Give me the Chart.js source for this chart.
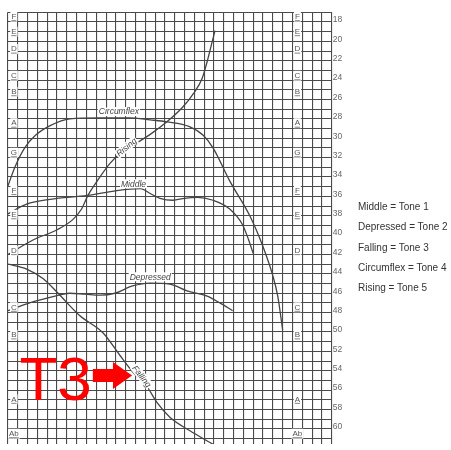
<!DOCTYPE html>
<html lang="en">
<head>
<meta charset="UTF-8">
<title>Tone contours</title>
<style>
  html, body { margin: 0; padding: 0; background: #fff; }
  #wrap { position: relative; width: 451px; height: 450px; }
  #legend {
    position: absolute; left: 358px; top: 197px;
    font-family: "Liberation Sans Narrow", "Liberation Sans", Arial, sans-serif;
    font-size: 10px; color: #333; line-height: 20.3px; white-space: nowrap;
  }
</style>
</head>
<body>
<div id="wrap">
  <canvas id="toneChart" width="451" height="450"></canvas>
  <div id="legend"></div>
</div>
<script src="https://cdn.jsdelivr.net/npm/chart.js"></script>
<script>
// pitch curves: x = grid column, y = pitch step (18 at top, 60 near bottom)
const circumflexX = [0, 0.7, 1.7, 2.8, 4.3, 6.3, 9.4, 12.4, 14.5, 16.2, 18.5, 19.9, 20.9, 22.6, 24.7, 26, 27, 27.5, 28];
const circumflexY = [34.9, 33, 31, 29.7, 28.7, 28, 27.9, 27.9, 28.1, 28.3, 28.8, 29.7, 31, 34.4, 38.1, 41.2, 44.2, 46.3, 49.8];

const risingX = [0, 2.55, 5, 6.6, 7.5, 8.15, 9.1, 10.4, 11.4, 12.95, 14.5, 16.2, 17.8, 18.9, 19.8, 20.3, 20.8, 21.1];
const risingY = [42, 40.5, 39.45, 38.4, 37.3, 35.9, 34.4, 32.6, 31.6, 30.6, 29.6, 28.3, 26.8, 25.4, 23.8, 22.1, 20.1, 18.9];

const middleX = [0, 1.9, 4.3, 8.1, 11.1, 13.5, 14.5, 15.5, 16.8, 18, 19.3, 20.9, 22.6, 23.9, 24.5, 25];
const middleY = [37.8, 36.8, 36.3, 35.9, 35.4, 35.2, 35.7, 36.2, 36.4, 36.2, 36.1, 36.4, 37.3, 38.9, 40.4, 41.9];

const depressedX = [0, 2.2, 4.8, 6.3, 7.85, 9.4, 10.9, 12.7, 14.5, 16.5, 18.25, 20.3, 21.6, 22.9];
const depressedY = [47.8, 47, 46.3, 46, 46.1, 46.2, 46, 45.25, 44.95, 45.05, 45.75, 46.3, 47, 47.8];

const fallingX = [0, 1.9, 3.6, 5.1, 7.3, 9.7, 11.4, 12.7, 14.2, 15.2, 16.5, 18.55, 20.4, 21.1];
const fallingY = [43, 43.5, 44.5, 46, 48.3, 50.1, 52.4, 54.1, 55.7, 57.3, 58.8, 60.2, 61.3, 61.7];

// note letters down both sides of the grid
const noteNames = ['F', 'E', 'D', 'C', 'B', 'A', 'G', 'F', 'E', 'D', 'C', 'B', 'A', 'Ab'];
const notePitch = [17.45, 19, 20.8, 23.55, 25.2, 28.45, 31.5, 35.4, 37.9, 41.6, 47.45, 50.3, 56.95, 60.5];

// legend
const toneNames = ['Middle', 'Depressed', 'Falling', 'Circumflex', 'Rising'];
const toneNumbers = [1, 2, 3, 4, 5];

const gridColumns = Array.from({ length: 34 }, (_, i) => i);
const gridRows = Array.from({ length: 45 }, (_, i) => 17 + i);

document.getElementById('legend').innerHTML = toneNames
  .map((n, i) => n + ' = Tone ' + toneNumbers[i]).join('<br>');

function toPoints(xs, ys) {
  return xs.map((x, i) => ({ x: x, y: ys[i] }));
}

function curve(label, xs, ys) {
  return {
    label: label,
    data: toPoints(xs, ys),
    borderColor: '#444',
    borderWidth: 1.3,
    pointRadius: 0,
    cubicInterpolationMode: 'monotone',
    fill: false
  };
}

// labels written along the curves, in chart units
const curveTags = [
  { text: 'Circumflex', x: 11.3, y: 27.3, angle: 0 },
  { text: 'Middle', x: 12.8, y: 34.75, angle: 0 },
  { text: 'Depressed', x: 14.5, y: 44.35, angle: 0 },
  { text: 'Rising', x: 12.1, y: 30.95, angle: -40 },
  { text: 'Falling', x: 13.6, y: 54.6, angle: 52 }
];

const annotations = {
  id: 'annotations',
  afterDatasetsDraw(chart) {
    const ctx = chart.ctx;
    const xs = chart.scales.x;
    const ys = chart.scales.y;
    ctx.save();

    // curve names
    ctx.font = 'italic 8.5px "Liberation Sans", Arial, sans-serif';
    ctx.textAlign = 'center';
    ctx.textBaseline = 'middle';
    curveTags.forEach(t => {
      const px = xs.getPixelForValue(t.x);
      const py = ys.getPixelForValue(t.y);
      const w = ctx.measureText(t.text).width;
      ctx.save();
      ctx.translate(px, py);
      ctx.rotate(t.angle * Math.PI / 180);
      ctx.fillStyle = '#fff';
      ctx.fillRect(-w / 2 - 1, -5, w + 2, 9);
      ctx.fillStyle = '#444';
      ctx.fillText(t.text, 0, 0);
      ctx.restore();
    });

    // note letters, left and right
    ctx.font = '8px "Liberation Sans", Arial, sans-serif';
    [0.6, 29.5].forEach(col => {
      const px = xs.getPixelForValue(col);
      noteNames.forEach((n, i) => {
        const py = ys.getPixelForValue(notePitch[i]);
        const w = ctx.measureText(n).width;
        ctx.fillStyle = '#fff';
        ctx.fillRect(px - w / 2 - 1, py - 5, w + 2, 10);
        ctx.fillStyle = '#555';
        ctx.fillText(n, px, py);
        ctx.strokeStyle = '#666';
        ctx.lineWidth = 0.8;
        ctx.beginPath();
        ctx.moveTo(px - w / 2, py + 4);
        ctx.lineTo(px + w / 2, py + 4);
        ctx.stroke();
      });
    });

    // T3 marker with arrow
    ctx.fillStyle = '#ff0000';
    ctx.font = '62px "Liberation Sans", Arial, sans-serif';
    ctx.textAlign = 'center';
    ctx.textBaseline = 'alphabetic';
    ctx.fillText('T3', xs.getPixelForValue(4.85), ys.getPixelForValue(57.05));
    const ax0 = xs.getPixelForValue(8.65);
    const ax1 = xs.getPixelForValue(10.7);
    const tip = xs.getPixelForValue(12.65);
    const ay = ys.getPixelForValue(54.5);
    ctx.beginPath();
    ctx.moveTo(ax0, ay - 6.5);
    ctx.lineTo(ax1, ay - 6.5);
    ctx.lineTo(ax1, ay - 13.5);
    ctx.lineTo(tip, ay);
    ctx.lineTo(ax1, ay + 13.5);
    ctx.lineTo(ax1, ay + 6.5);
    ctx.lineTo(ax0, ay + 6.5);
    ctx.closePath();
    ctx.fill();
    ctx.restore();
  }
};

const toneChart = new Chart(document.getElementById('toneChart'), {
  type: 'line',
  data: {
    datasets: [
      curve('Circumflex', circumflexX, circumflexY),
      curve('Rising', risingX, risingY),
      curve('Middle', middleX, middleY),
      curve('Depressed', depressedX, depressedY),
      curve('Falling', fallingX, fallingY)
    ]
  },
  options: {
    responsive: false,
    animation: false,
    devicePixelRatio: 1,
    layout: {
      autoPadding: false,
      padding: { left: 8, top: 12.3, right: 103.3, bottom: 0 }
    },
    plugins: {
      legend: { display: false },
      tooltip: { enabled: false }
    },
    scales: {
      x: {
        type: 'linear',
        min: 0,
        max: 33,
        afterBuildTicks: s => { s.ticks = gridColumns.map(v => ({ value: v })); },
        afterFit: s => { s.height = 0; },
        ticks: { display: false },
        grid: { color: '#4a4a4a', lineWidth: 1.1, drawTicks: false },
        border: { display: false }
      },
      y: {
        type: 'linear',
        position: 'right',
        reverse: true,
        min: 17,
        max: 61.55,
        afterBuildTicks: s => { s.ticks = gridRows.map(v => ({ value: v })); },
        afterFit: s => { s.width = 16; },
        ticks: {
          autoSkip: false,
          padding: 1,
          labelOffset: -2,
          color: '#666',
          font: { size: 8.5, family: '"Liberation Sans", Arial, sans-serif' },
          callback: v => (v % 2 === 0 ? String(v) : '')
        },
        grid: { color: '#4a4a4a', lineWidth: 1.1, drawTicks: false },
        border: { display: false }
      }
    }
  },
  plugins: [annotations]
});
</script>
</body>
</html>
